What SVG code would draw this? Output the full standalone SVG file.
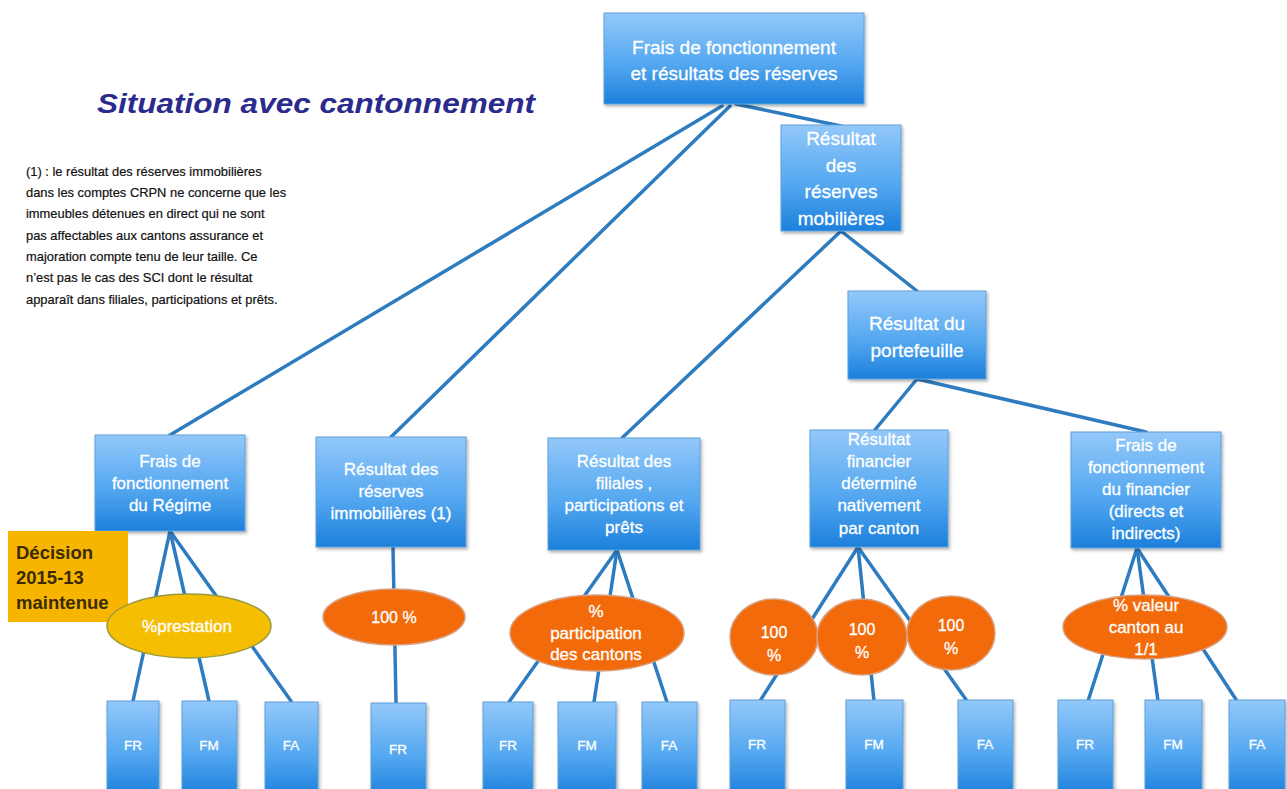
<svg xmlns="http://www.w3.org/2000/svg" width="1287" height="789" viewBox="0 0 1287 789">
<defs>
<linearGradient id="bg" x1="0" y1="0" x2="0" y2="1">
<stop offset="0" stop-color="#93C8FA"/>
<stop offset="0.55" stop-color="#55A8F0"/>
<stop offset="1" stop-color="#1C80DC"/>
</linearGradient>
<filter id="sh" x="-10%" y="-10%" width="125%" height="125%">
<feDropShadow dx="1.5" dy="2" stdDeviation="1.5" flood-color="#000" flood-opacity="0.3"/>
</filter>
</defs>
<style>
.box{fill:url(#bg);stroke:#5FA0D8;stroke-width:1;filter:url(#sh)}
.bt{font-family:"Liberation Sans",Arial,sans-serif;fill:#fff;text-anchor:middle;stroke:#fff;stroke-width:0.3}
.ell{fill:#F26A0A;stroke:#D8A080;stroke-width:1.5}
.ell2{fill:#F6BE00;stroke:#9A9A40;stroke-width:1.5}
.c{stroke:#2E7CC0;stroke-width:3.5;fill:none;stroke-linecap:round}
.note{font-family:"Liberation Sans",Arial,sans-serif;font-size:12.9px;fill:#111;stroke:#111;stroke-width:0.2}
.s1{font-size:19px}
.s2{font-size:17px}
.s3{font-size:16px}
.s4{font-size:13.5px}
</style>
<rect width="1287" height="789" fill="#fff"/>

<text x="97" y="113" font-family="Liberation Sans,Arial,sans-serif" font-size="28" font-weight="bold" font-style="italic" fill="#2B2B8E" textLength="438" lengthAdjust="spacingAndGlyphs">Situation avec cantonnement</text>

<g id="note" class="note">
<text x="26" y="176">(1) : le résultat des réserves immobilières</text>
<text x="26" y="197">dans les comptes CRPN ne concerne que les</text>
<text x="26" y="218">immeubles détenues en direct qui ne sont</text>
<text x="26" y="240">pas affectables aux cantons assurance et</text>
<text x="26" y="261">majoration compte tenu de leur taille. Ce</text>
<text x="26" y="282">n’est pas le cas des SCI dont le résultat</text>
<text x="26" y="304">apparaît dans filiales, participations et prêts.</text>
</g>

<g id="connectors">
<line class="c" x1="722" y1="106" x2="170" y2="435"/>
<line class="c" x1="730" y1="106" x2="391" y2="437"/>
<line class="c" x1="736" y1="104" x2="841" y2="126"/>
<line class="c" x1="841" y1="231" x2="622" y2="438"/>
<line class="c" x1="841" y1="231" x2="917" y2="291"/>
<line class="c" x1="917" y1="379" x2="874" y2="431"/>
<line class="c" x1="917" y1="379" x2="1146" y2="432"/>
<line class="c" x1="170" y1="531" x2="133" y2="701"/>
<line class="c" x1="170" y1="531" x2="209" y2="701"/>
<line class="c" x1="170" y1="531" x2="291" y2="701"/>
<line class="c" x1="393" y1="547" x2="396" y2="703"/>
<line class="c" x1="617" y1="550" x2="509" y2="702"/>
<line class="c" x1="617" y1="550" x2="594" y2="702"/>
<line class="c" x1="617" y1="550" x2="667" y2="702"/>
<line class="c" x1="858" y1="547" x2="760" y2="701"/>
<line class="c" x1="858" y1="547" x2="874" y2="701"/>
<line class="c" x1="858" y1="547" x2="967" y2="701"/>
<line class="c" x1="1137" y1="548" x2="1088" y2="701"/>
<line class="c" x1="1137" y1="548" x2="1158" y2="701"/>
<line class="c" x1="1137" y1="548" x2="1237" y2="701"/>
</g>

<g id="n-top">
<rect class="box" x="604" y="13" width="260" height="91"/>
<text class="bt s1" x="734" y="54">Frais de fonctionnement</text>
<text class="bt s1" x="734" y="80">et résultats des réserves</text>
</g>

<g id="n-mob">
<rect class="box" x="781" y="125" width="120" height="106"/>
<text class="bt s1" x="841" y="145">Résultat</text>
<text class="bt s1" x="841" y="172">des</text>
<text class="bt s1" x="841" y="198">réserves</text>
<text class="bt s1" x="841" y="225">mobilières</text>
</g>

<g id="n-port">
<rect class="box" x="848" y="291" width="138" height="88"/>
<text class="bt s1" x="917" y="330">Résultat du</text>
<text class="bt s1" x="917" y="357">portefeuille</text>
</g>

<g id="n-regime">
<rect class="box" x="95" y="435" width="150" height="96"/>
<text class="bt s2" x="170" y="467">Frais de</text>
<text class="bt s2" x="170" y="489">fonctionnement</text>
<text class="bt s2" x="170" y="511">du Régime</text>
</g>

<g id="n-immo">
<rect class="box" x="316" y="437" width="150" height="110"/>
<text class="bt s2" x="391" y="475">Résultat des</text>
<text class="bt s2" x="391" y="497">réserves</text>
<text class="bt s2" x="391" y="519">immobilières (1)</text>
</g>

<g id="n-fil">
<rect class="box" x="548" y="438" width="152" height="112"/>
<text class="bt s2" x="624" y="467">Résultat des</text>
<text class="bt s2" x="624" y="489">filiales ,</text>
<text class="bt s2" x="624" y="511">participations et</text>
<text class="bt s2" x="624" y="533">prêts</text>
</g>

<g id="n-fin">
<rect class="box" x="810" y="430" width="138" height="117"/>
<text class="bt s2" x="879" y="445">Résultat</text>
<text class="bt s2" x="879" y="467">financier</text>
<text class="bt s2" x="879" y="489">déterminé</text>
<text class="bt s2" x="879" y="511">nativement</text>
<text class="bt s2" x="879" y="534">par canton</text>
</g>

<g id="n-fff">
<rect class="box" x="1071" y="432" width="150" height="116"/>
<text class="bt s2" x="1146" y="451">Frais de</text>
<text class="bt s2" x="1146" y="473">fonctionnement</text>
<text class="bt s2" x="1146" y="495">du financier</text>
<text class="bt s2" x="1146" y="517">(directs et</text>
<text class="bt s2" x="1146" y="539">indirects)</text>
</g>

<g id="n-decision">
<rect x="8" y="531" width="120" height="91" fill="#F7B500"/>
<g font-family="Liberation Sans,Arial,sans-serif" font-size="18.5" font-weight="bold" fill="#3A2A05">
<text x="16" y="559">Décision</text>
<text x="16" y="584">2015-13</text>
<text x="16" y="609">maintenue</text>
</g>
</g>

<g id="e-prest">
<ellipse class="ell2" cx="189" cy="626" rx="82" ry="32"/>
<text class="bt s2" x="187" y="632">%prestation</text>
</g>
<g id="e-immo">
<ellipse class="ell" cx="394" cy="617" rx="71" ry="28"/>
<text class="bt s3" x="394" y="623">100 %</text>
</g>
<g id="e-fil">
<ellipse class="ell" cx="597" cy="633" rx="87" ry="38"/>
<text class="bt s2" x="596" y="617">%</text>
<text class="bt s2" x="596" y="639">participation</text>
<text class="bt s2" x="596" y="660">des cantons</text>
</g>
<g id="e-fin1">
<ellipse class="ell" cx="774" cy="637" rx="44" ry="38"/>
<text class="bt s3" x="774" y="638">100</text>
<text class="bt s3" x="774" y="661">%</text>
</g>
<g id="e-fin2">
<ellipse class="ell" cx="862" cy="637" rx="45" ry="38"/>
<text class="bt s3" x="862" y="635">100</text>
<text class="bt s3" x="862" y="658">%</text>
</g>
<g id="e-fin3">
<ellipse class="ell" cx="951" cy="633" rx="44" ry="37"/>
<text class="bt s3" x="951" y="631">100</text>
<text class="bt s3" x="951" y="654">%</text>
</g>
<g id="e-fff">
<ellipse class="ell" cx="1145" cy="627" rx="82" ry="32"/>
<text class="bt s2" x="1146" y="611">% valeur</text>
<text class="bt s2" x="1146" y="633">canton au</text>
<text class="bt s2" x="1146" y="655">1/1</text>
</g>

<g id="b1"><rect class="box" x="107" y="701" width="52" height="95"/><text class="bt s4" x="133" y="750">FR</text></g>
<g id="b2"><rect class="box" x="182" y="701" width="55" height="95"/><text class="bt s4" x="209" y="750">FM</text></g>
<g id="b3"><rect class="box" x="265" y="702" width="53" height="95"/><text class="bt s4" x="291" y="750">FA</text></g>
<g id="b4"><rect class="box" x="371" y="703" width="55" height="95"/><text class="bt s4" x="398" y="754">FR</text></g>
<g id="b5"><rect class="box" x="483" y="702" width="50" height="95"/><text class="bt s4" x="508" y="750">FR</text></g>
<g id="b6"><rect class="box" x="558" y="702" width="58" height="95"/><text class="bt s4" x="587" y="750">FM</text></g>
<g id="b7"><rect class="box" x="642" y="702" width="55" height="95"/><text class="bt s4" x="669" y="750">FA</text></g>
<g id="b8"><rect class="box" x="730" y="700" width="55" height="95"/><text class="bt s4" x="757" y="749">FR</text></g>
<g id="b9"><rect class="box" x="846" y="700" width="57" height="95"/><text class="bt s4" x="874" y="749">FM</text></g>
<g id="b10"><rect class="box" x="958" y="700" width="55" height="95"/><text class="bt s4" x="985" y="749">FA</text></g>
<g id="b11"><rect class="box" x="1058" y="700" width="55" height="95"/><text class="bt s4" x="1085" y="749">FR</text></g>
<g id="b12"><rect class="box" x="1145" y="700" width="57" height="95"/><text class="bt s4" x="1173" y="749">FM</text></g>
<g id="b13"><rect class="box" x="1229" y="700" width="56" height="95"/><text class="bt s4" x="1257" y="749">FA</text></g>
</svg>
